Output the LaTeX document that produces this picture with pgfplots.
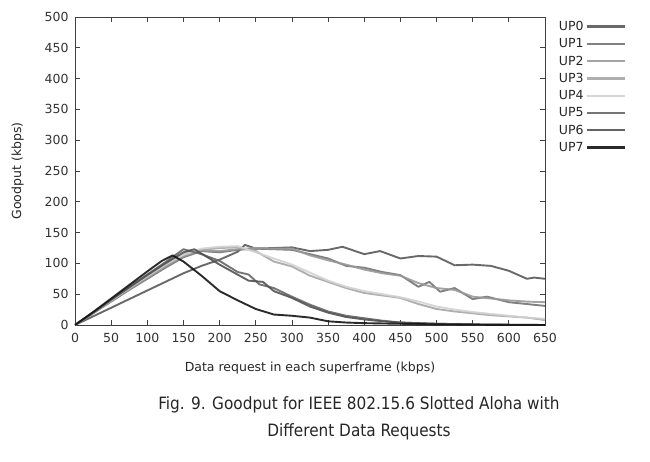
\documentclass[border=0pt]{standalone}
\usepackage{pgfplots}
\pgfplotsset{compat=1.18}
\usepackage{fontspec}
\setmainfont{DejaVu Sans}
\newfontfamily\capfont{DejaVu Sans Condensed}
\begin{document}
\begin{tikzpicture}
\begin{axis}[
  name=ax,
  scale only axis,
  width=470bp, height=308bp,
  xmin=0, xmax=650, ymin=0, ymax=500,
  xtick={0,50,...,650}, ytick={0,50,...,500},
  tick align=inside,
  major tick length=5bp,
  axis line style={black!75, line width=0.8pt},
  tick style={black!75, line width=0.7pt},
  /pgf/number format/assume math mode=true,
  ticklabel style={font=\fontsize{12.5bp}{14bp}\selectfont, text=black!80},
  xticklabel style={yshift=-5bp},
  yticklabel style={xshift=-3bp},
  label style={font=\fontsize{12.5bp}{14bp}\selectfont, text=black!85},
  xlabel={Data request in each superframe (kbps)},
  ylabel={Goodput (kbps)},
  xlabel style={yshift=-12bp},
  ylabel style={yshift=14bp},
  legend plot pos=right,
  legend cell align=left,
  legend style={draw=none, fill=none, at={([yshift=-2bp]1.025,1)}, anchor=north west,
    font=\fontsize{12.5bp}{14bp}\selectfont, text=black!85,
    row sep=2.6bp, inner sep=0pt},
  legend image code/.code={\draw[#1, line width=2.3pt] (0cm,0cm) -- (1.35cm,0cm);},
  every axis plot/.append style={line width=1.9pt, line join=round, opacity=0.9},
]
% UP0
\addplot[color=black!65] coordinates {
(0,0)(25,14)(50,28)(75,42)(100,56)(125,70)(150,84)(175,96)(200,106)(225,119)(235,130)(250,124)(275,125)(300,126)(325,120)(350,122)(370,127)(400,115)(422,120)(450,108)(475,112)(500,111)(525,97)(550,98)(575,96)(600,88)(625,75)(635,77)(650,75)};
\addlegendentry{UP0}
% UP1
\addplot[color=black!55] coordinates {
(0,0)(25,19)(50,38)(75,57)(100,75)(125,93)(150,110)(175,120)(200,118)(225,122)(250,124)(275,123)(300,122)(325,115)(350,108)(375,96)(400,93)(425,86)(450,81)(475,62)(490,70)(505,54)(525,60)(550,42)(570,46)(600,37)(625,34)(650,31)};
\addlegendentry{UP1}
% UP2
\addplot[color=black!40] coordinates {
(0,0)(25,19)(50,39)(75,58)(100,77)(125,95)(150,112)(175,121)(200,120)(225,123)(250,125)(275,124)(300,124)(325,113)(350,105)(375,98)(400,90)(425,84)(450,80)(475,68)(500,60)(525,57)(550,46)(575,43)(600,40)(625,38)(650,37)};
\addlegendentry{UP2}
% UP3
\addplot[color=black!35] coordinates {
(0,0)(25,20)(50,40)(75,60)(100,80)(125,99)(150,115)(175,122)(200,125)(225,126)(250,120)(275,103)(300,95)(325,80)(350,70)(375,60)(400,52)(425,48)(450,44)(475,34)(500,26)(525,22)(550,19)(575,16)(600,14)(625,12)(650,8)};
\addlegendentry{UP3}
% UP4
\addplot[color=black!18] coordinates {
(0,0)(25,20)(50,40)(75,60)(100,79)(125,98)(150,114)(175,124)(200,127)(225,128)(250,118)(275,108)(300,98)(325,85)(350,72)(375,62)(400,55)(425,50)(450,45)(475,38)(500,30)(525,25)(550,21)(575,18)(600,15)(625,12)(650,10)};
\addlegendentry{UP4}
% UP5
\addplot[color=black!60] coordinates {
(0,0)(25,20)(50,41)(75,62)(100,82)(125,102)(150,123)(175,115)(200,104)(225,86)(240,82)(255,66)(275,60)(300,46)(325,33)(350,22)(375,15)(400,11)(425,7)(450,4)(475,3)(500,2)(550,1)(600,0.5)(650,0)};
\addlegendentry{UP5}
% UP6
\addplot[color=black!68] coordinates {
(0,0)(25,20)(50,41)(75,61)(100,81)(125,100)(150,118)(165,123)(200,98)(220,85)(240,72)(260,70)(275,55)(300,44)(325,30)(350,20)(375,13)(400,9)(425,6)(450,4)(500,2)(550,1)(650,0)};
\addlegendentry{UP6}
% UP7
\addplot[color=black!92] coordinates {
(0,0)(25,21)(50,43)(75,65)(100,87)(120,104)(135,113)(150,103)(175,80)(200,55)(225,40)(250,26)(275,17)(300,15)(325,12)(350,6)(375,4)(400,3)(450,2)(500,1)(550,0.5)(600,0)(650,0)};
\addlegendentry{UP7}
\end{axis}
\node[font=\capfont\fontsize{17bp}{27bp}\selectfont, align=center, text=black!85, anchor=north]
  at ([xshift=49bp,yshift=-68bp]ax.south) {Fig. 9. Goodput for IEEE 802.15.6 Slotted Aloha with\\Different Data Requests};
\path[use as bounding box] ([shift={(-75bp,-137bp)}]ax.south west) rectangle ([shift={(105bp,17bp)}]ax.north east);
\end{tikzpicture}
\end{document}
